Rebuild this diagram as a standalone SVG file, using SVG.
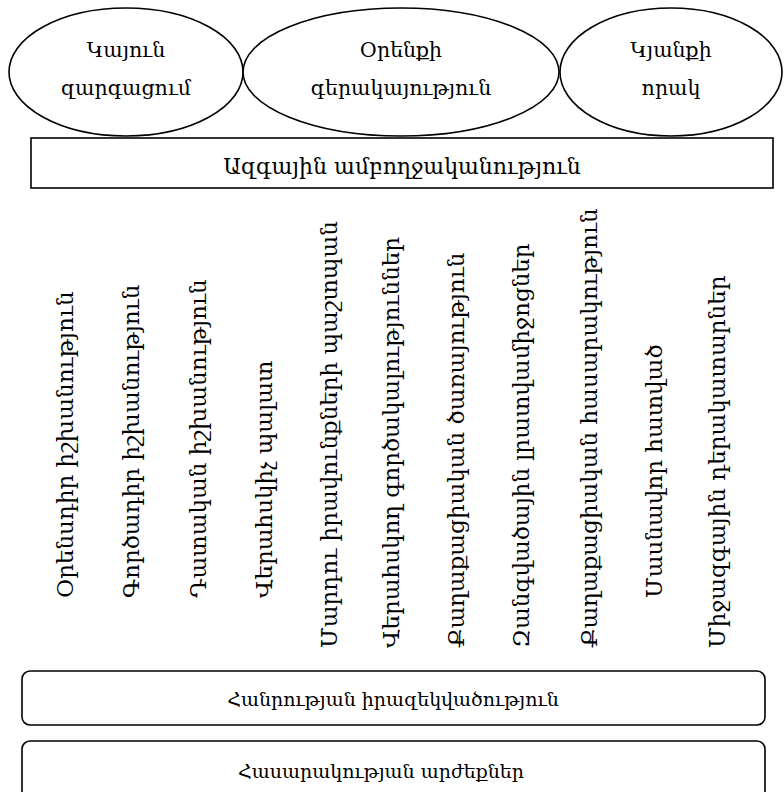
<svg xmlns="http://www.w3.org/2000/svg" width="784" height="792" viewBox="0 0 784 792">
<style>
.shape{fill:#fff;stroke:#000;stroke-width:1.6}
.t{font-family:"DejaVu Serif",serif;font-size:22px;fill:#000}
.e{font-size:20.5px}
.b{font-size:19px}
.h{text-anchor:middle}
.v{text-anchor:start;font-size:23px}
</style>
<rect x="0" y="0" width="784" height="792" fill="#fff"/>
<g id="ellipse-kayun">
<ellipse class="shape" cx="126" cy="72" rx="117" ry="64"/>
<text class="t e h" x="126" y="57">Կայուն</text>
<text class="t e h" x="126" y="95">զարգացում</text>
</g>
<g id="ellipse-orenqi">
<ellipse class="shape" cx="401" cy="72" rx="158" ry="64"/>
<text class="t e h" x="401" y="57">Օրենքի</text>
<text class="t e h" x="401" y="95">գերակայություն</text>
</g>
<g id="ellipse-kyanqi">
<ellipse class="shape" cx="671" cy="72" rx="111" ry="64"/>
<text class="t e h" x="671" y="57">Կյանքի</text>
<text class="t e h" x="671" y="95">որակ</text>
</g>
<g id="national-integrity">
<rect class="shape" x="31" y="138" width="742" height="50"/>
<text class="t h" x="402" y="174">Ազգային ամբողջականություն</text>
</g>
<g id="pillars">
<g id="p1"><text class="t v" transform="translate(73,598) rotate(-90)">Օրենսդիր իշխանություն</text></g>
<g id="p2"><text class="t v" transform="translate(139,598) rotate(-90)">Գործադիր իշխանություն</text></g>
<g id="p3"><text class="t v" transform="translate(206,598) rotate(-90)">Դատական իշխանություն</text></g>
<g id="p4"><text class="t v" transform="translate(272,598) rotate(-90)">Վերահսկիչ պալատ</text></g>
<g id="p5"><text class="t v" transform="translate(337,648) rotate(-90)">Մարդու իրավունքների պաշտպան</text></g>
<g id="p6"><text class="t v" transform="translate(399,648) rotate(-90)">Վերահսկող գործակալություններ</text></g>
<g id="p7"><text class="t v" transform="translate(464,648) rotate(-90)">Քաղաքացիական ծառայություն</text></g>
<g id="p8"><text class="t v" transform="translate(529,648) rotate(-90)">Զանգվածային լրատվամիջոցներ</text></g>
<g id="p9"><text class="t v" transform="translate(597,648) rotate(-90)">Քաղաքացիական հասարակություն</text></g>
<g id="p10"><text class="t v" transform="translate(662,598) rotate(-90)">Մասնավոր հատված</text></g>
<g id="p11"><text class="t v" transform="translate(725,648) rotate(-90)">Միջազգային դերակատարներ</text></g>
</g>
<g id="public-awareness">
<rect class="shape" x="22" y="671" width="743" height="54" rx="8"/>
<text class="t b h" x="393" y="706">Հանրության իրազեկվածություն</text>
</g>
<g id="society-values">
<rect class="shape" x="22" y="741" width="743" height="58" rx="8"/>
<text class="t b h" x="381" y="778">Հասարակության արժեքներ</text>
</g>
<g id="connectors"></g>
</svg>
